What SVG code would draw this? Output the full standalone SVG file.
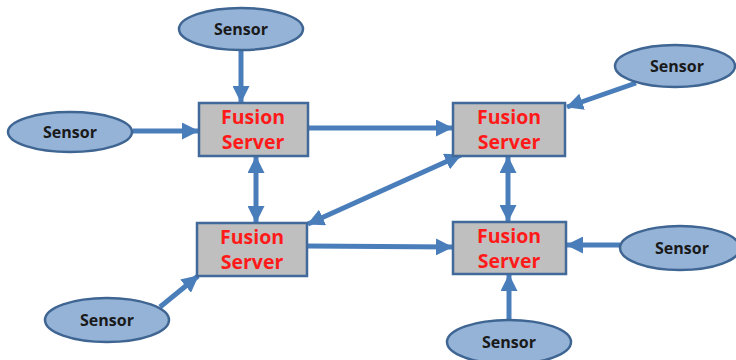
<svg xmlns="http://www.w3.org/2000/svg" width="736" height="360" viewBox="0 0 736 360">
<defs>
<style>
.sensor{fill:#95B3D7;stroke:#3F6592;stroke-width:2.5}
.server{fill:#BFBFBF;stroke:#41699A;stroke-width:2.5}
.st{font-family:"Open Sans","Liberation Sans",sans-serif;font-weight:bold;font-size:16px;fill:#1a1a1a;text-anchor:middle}
.ft{font-family:"Open Sans","Liberation Sans",sans-serif;font-weight:bold;font-size:19.5px;fill:#FF1A1A;text-anchor:middle}
.c{stroke:#4A7EBB;stroke-width:5;fill:none}
</style>
<marker id="ah" markerUnits="userSpaceOnUse" markerWidth="17" markerHeight="17" viewBox="0 0 17 17" refX="16" refY="8.5" orient="auto-start-reverse">
<path d="M0,0 L17,8.5 L0,17 Z" fill="#4A7EBB"/>
</marker>
</defs>
<g id="connectors">
<line class="c" x1="241" y1="51" x2="241" y2="102" marker-end="url(#ah)"/>
<line class="c" x1="133" y1="131" x2="198" y2="131" marker-end="url(#ah)"/>
<line class="c" x1="309" y1="128" x2="452" y2="128" marker-end="url(#ah)"/>
<line class="c" x1="636" y1="83" x2="567" y2="107" marker-end="url(#ah)"/>
<line class="c" x1="256" y1="157" x2="256" y2="222" marker-start="url(#ah)" marker-end="url(#ah)"/>
<line class="c" x1="461" y1="155" x2="308" y2="224" marker-start="url(#ah)" marker-end="url(#ah)"/>
<line class="c" x1="508" y1="157" x2="508" y2="221" marker-start="url(#ah)" marker-end="url(#ah)"/>
<line class="c" x1="308" y1="246" x2="452" y2="247" marker-end="url(#ah)"/>
<line class="c" x1="620" y1="245" x2="567" y2="245" marker-end="url(#ah)"/>
<line class="c" x1="509" y1="320" x2="509" y2="275" marker-end="url(#ah)"/>
<line class="c" x1="160" y1="307" x2="198" y2="276" marker-end="url(#ah)"/>
</g>
<g id="sensor1"><ellipse class="sensor" cx="241" cy="29" rx="62" ry="21"/><text class="st" x="241" y="35">Sensor</text></g>
<g id="sensor2"><ellipse class="sensor" cx="70" cy="132" rx="62" ry="20"/><text class="st" x="70" y="138">Sensor</text></g>
<g id="sensor3"><ellipse class="sensor" cx="675" cy="66" rx="60" ry="21"/><text class="st" x="677" y="72">Sensor</text></g>
<g id="sensor4"><ellipse class="sensor" cx="107" cy="320" rx="62" ry="22"/><text class="st" x="107" y="326">Sensor</text></g>
<g id="sensor5"><ellipse class="sensor" cx="680" cy="248" rx="60" ry="22"/><text class="st" x="682" y="254">Sensor</text></g>
<g id="sensor6"><ellipse class="sensor" cx="509" cy="342" rx="62" ry="22"/><text class="st" x="509" y="348">Sensor</text></g>
<g id="server1"><rect class="server" x="199" y="103" width="109" height="53"/><text class="ft" x="253" y="124">Fusion</text><text class="ft" x="253" y="149">Server</text></g>
<g id="server2"><rect class="server" x="453" y="103" width="112" height="53"/><text class="ft" x="509" y="124">Fusion</text><text class="ft" x="509" y="149">Server</text></g>
<g id="server3"><rect class="server" x="197" y="223" width="110" height="53"/><text class="ft" x="252" y="244">Fusion</text><text class="ft" x="252" y="269">Server</text></g>
<g id="server4"><rect class="server" x="453" y="222" width="113" height="52"/><text class="ft" x="509" y="243">Fusion</text><text class="ft" x="509" y="268">Server</text></g>
</svg>
